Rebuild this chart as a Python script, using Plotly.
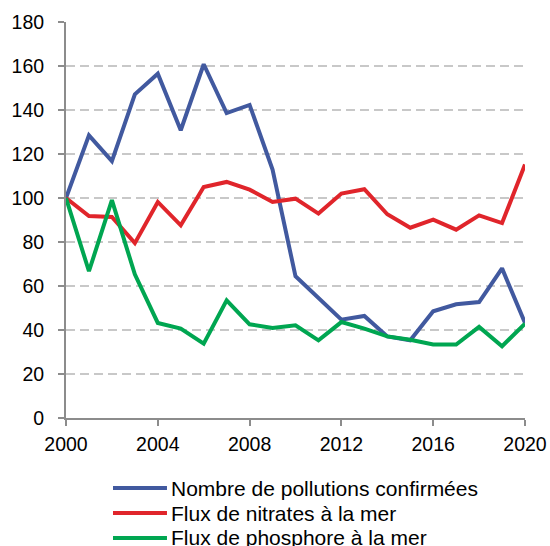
import plotly.graph_objects as go

years = list(range(2000, 2021))
pollutions = [100, 128.5, 116.8, 147.1, 156.5, 130.8, 160.8, 138.6, 142.3, 112.9, 64.4,
              54.7, 44.7, 46.4, 37.1, 35.3, 48.5, 51.7, 52.7, 68.0, 43.2]
nitrates = [100, 91.8, 91.4, 79.5, 98.2, 87.6, 105.0, 107.3, 103.8, 98.2, 99.7,
            92.9, 102.0, 104.0, 92.6, 86.5, 90.2, 85.6, 92.1, 88.6, 115.2]
phosphore = [100, 66.7, 99.0, 65.3, 43.2, 40.6, 33.8, 53.5, 42.6, 40.9, 42.1,
             35.3, 43.6, 40.6, 37.1, 35.6, 33.4, 33.4, 41.4, 32.6, 42.9]

names = ["Nombre de pollutions confirmées", "Flux de nitrates à la mer", "Flux de phosphore à la mer"]
colors = ["#41599F", "#E0252B", "#00A651"]
x_ticks = list(range(2000, 2021, 4))
y_ticks = list(range(0, 181, 20))

fig = go.Figure()
for n, vals, c in zip(names, [pollutions, nitrates, phosphore], colors):
    fig.add_trace(go.Scatter(x=years, y=vals, mode="lines", name=n, showlegend=False,
                             line=dict(color=c, width=4)))

# legend drawn below the plot (line sample + label per row)
legend_rows_y = [-0.1768, -0.2399, -0.3030]
shapes = []
annotations = []
for n, c, yy in zip(names, colors, legend_rows_y):
    shapes.append(dict(type="line", xref="paper", yref="paper", x0=0.1024, x1=0.2200,
                       y0=yy, y1=yy, line=dict(color=c, width=4)))
    annotations.append(dict(xref="paper", yref="paper", x=0.2244, y=yy, text=n,
                            showarrow=False, xanchor="left", yanchor="middle",
                            font=dict(size=21, color="#000000")))

fig.update_layout(
    width=550, height=546,
    margin=dict(l=66, r=25, t=22, b=128, autoexpand=False),
    paper_bgcolor="white", plot_bgcolor="white",
    font=dict(family="Liberation Sans, Arial, sans-serif", size=19.5, color="#000000"),
    showlegend=False,
    shapes=shapes, annotations=annotations,
)
fig.update_xaxes(range=[2000, 2020], tickmode="array", tickvals=x_ticks, automargin=False,
                 showgrid=False, showline=True, linecolor="#8c8c8c", linewidth=2,
                 ticks="outside", ticklen=6, tickcolor="#8c8c8c", tickwidth=2,
                 zeroline=False, tickfont=dict(size=19.5), ticklabelstandoff=2)
fig.update_yaxes(range=[0, 180], tickmode="array", tickvals=y_ticks, automargin=False,
                 showgrid=True, gridcolor="#c8c8c8", gridwidth=1.5, griddash="9px,5px",
                 showline=True, linecolor="#8c8c8c", linewidth=2,
                 ticks="outside", ticklen=6, tickcolor="#8c8c8c", tickwidth=2,
                 zeroline=False, tickfont=dict(size=19.5), ticklabelstandoff=10)

fig.write_html(
    "out.html",
    config={"displayModeBar": False},
    post_script="document.body.style.margin='0';"
                "document.documentElement.style.overflow='hidden';"
                "document.body.style.overflow='hidden';",
)
